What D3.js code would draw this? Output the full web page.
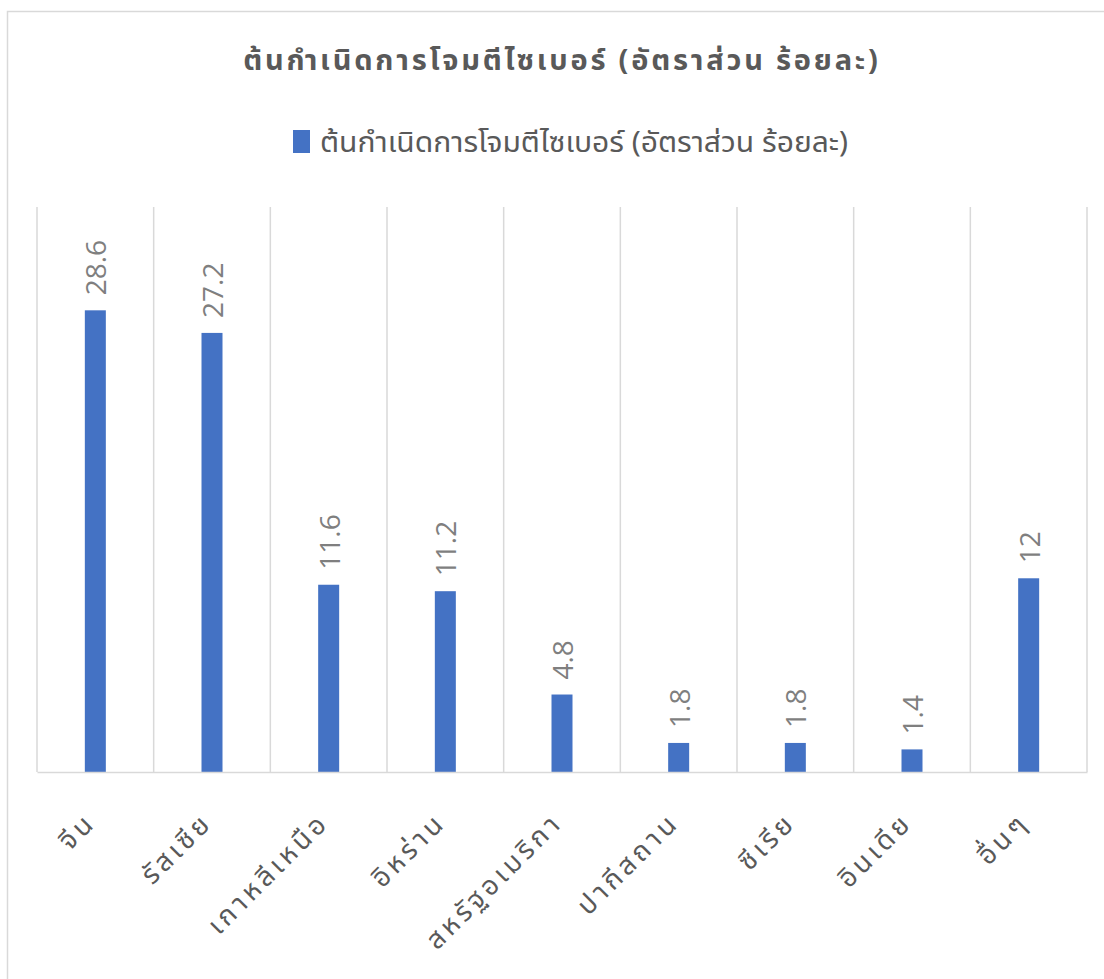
<!DOCTYPE html>
<html>
<head>
<meta charset="utf-8">
<script src="https://cdn.jsdelivr.net/npm/d3@7"></script>
<style>
  html, body { margin: 0; padding: 0; background: #fff; }
  svg { display: block; font-family: "Leelawadee UI", Tahoma, "Noto Sans Thai", "Noto Sans", "DejaVu Sans", sans-serif; }
</style>
</head>
<body>
<svg id="chart" width="1104" height="979"></svg>
<script>
// Origins of cyber attacks, share in percent
const chartTitle = "ต้นกำเนิดการโจมตีไซเบอร์ (อัตราส่วน ร้อยละ)";
const seriesName = "ต้นกำเนิดการโจมตีไซเบอร์ (อัตราส่วน ร้อยละ)";
const categories = ["จีน", "รัสเซีย", "เกาหลีเหนือ", "อิหร่าน", "สหรัฐอเมริกา", "ปากีสถาน", "ซีเรีย", "อินเดีย", "อื่นๆ"];
const values = [28.6, 27.2, 11.6, 11.2, 4.8, 1.8, 1.8, 1.4, 12];
const yDomain = [0, 35];

const svg = d3.select("#chart");
const W = 1104, H = 979;

// chart frame
svg.append("rect")
  .attr("x", 7.5).attr("y", 11.5)
  .attr("width", W).attr("height", H)
  .attr("fill", "#fff").attr("stroke", "#d9d9d9").attr("stroke-width", 1.5);

const plot = { left: 37, right: 1087, top: 207, bottom: 772 };

const x = d3.scaleBand().domain(categories).range([plot.left, plot.right]).paddingInner(0).paddingOuter(0);
const y = d3.scaleLinear().domain(yDomain).range([plot.bottom, plot.top]);

// title
svg.append("text")
  .attr("x", 562).attr("y", 70)
  .attr("text-anchor", "middle")
  .attr("font-size", 29).attr("font-weight", "bold")
  .attr("fill", "#595959")
  .attr("letter-spacing", 2.8)
  .text(chartTitle);

// legend
const legend = svg.append("g");
legend.append("rect")
  .attr("x", 293).attr("y", 130).attr("width", 17).attr("height", 23)
  .attr("fill", "#4472c4");
legend.append("text")
  .attr("x", 320).attr("y", 152)
  .attr("font-size", 29).attr("fill", "#595959")
  .attr("textLength", 528).attr("lengthAdjust", "spacingAndGlyphs")
  .text(seriesName);

// category separators (vertical gridlines)
const edges = categories.map(c => x(c)).concat([plot.right]);
svg.append("g").selectAll("line").data(edges).join("line")
  .attr("x1", d => d).attr("x2", d => d)
  .attr("y1", plot.top).attr("y2", plot.bottom)
  .attr("stroke", "#d9d9d9").attr("stroke-width", 1.5);

// bars
const barW = 21;
svg.append("g").selectAll("rect").data(values).join("rect")
  .attr("x", (d, i) => x(categories[i]) + x.bandwidth() / 2 - barW / 2)
  .attr("width", barW)
  .attr("y", d => y(d))
  .attr("height", d => y(0) - y(d))
  .attr("fill", "#4472c4");

// baseline axis
const xAxis = d3.axisBottom(x).tickSize(0).tickFormat("");
const axisG = svg.append("g").attr("transform", `translate(0,${plot.bottom})`).call(xAxis);
axisG.select(".domain").attr("stroke", "#d9d9d9").attr("stroke-width", 1.5);

// value labels, rotated
svg.append("g").selectAll("text").data(values).join("text")
  .attr("transform", (d, i) => {
    const cx = x(categories[i]) + x.bandwidth() / 2 + 11;
    const cy = y(d) - 15;
    return `translate(${cx},${cy}) rotate(-90)`;
  })
  .attr("text-anchor", "start")
  .attr("font-family", "'Open Sans', Roboto, 'Liberation Sans', Arial, sans-serif")
  .attr("font-size", 28)
  .attr("fill", "#7f7f7f")
  .text(d => d3.format("")(d));

// category labels, rotated -45
svg.append("g").selectAll("text").data(categories).join("text")
  .attr("transform", c => {
    const cx = x(c) + x.bandwidth() / 2 + 2;
    const cy = plot.bottom + 52;
    return `translate(${cx},${cy}) rotate(-45)`;
  })
  .attr("text-anchor", "end")
  .attr("font-size", 27)
  .attr("letter-spacing", 4)
  .attr("fill", "#595959")
  .text(c => c);
</script>
</body>
</html>
